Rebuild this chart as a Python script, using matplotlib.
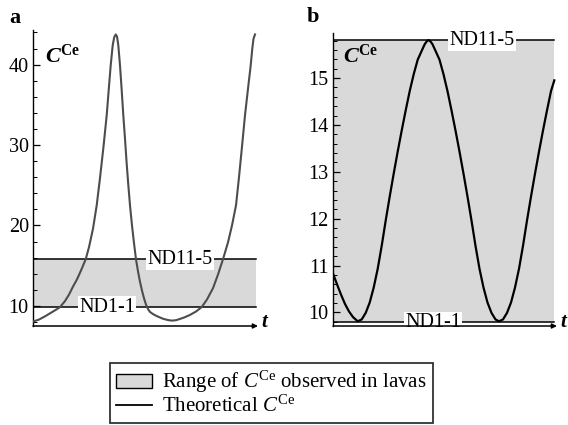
import matplotlib.pyplot as plt
from matplotlib.patches import Patch
from matplotlib.lines import Line2D
from matplotlib.ticker import MultipleLocator

plt.rcParams['font.family'] = 'Liberation Serif'
plt.rcParams['mathtext.fontset'] = 'custom'
plt.rcParams['mathtext.rm'] = 'Liberation Serif'
plt.rcParams['mathtext.it'] = 'Liberation Serif:italic'
plt.rcParams['mathtext.bf'] = 'Liberation Serif:bold'
plt.rcParams['mathtext.bfit'] = 'Liberation Serif:bold:italic'

# --- panel a: valores (t en unidades arbitrarias)
t_a = [0, 6, 12, 18, 24, 27, 32, 36, 40, 44, 48, 52.7, 56, 60, 63.7, 67, 70.5, 73.7,
       76, 77.7, 79.7, 81.2, 82.7, 84, 85.3, 87, 88.7, 90.3, 92, 93.5, 95.2, 97, 99,
       101, 103, 105, 107, 109, 111, 113, 115, 117, 120, 124, 130, 135, 138.7, 143,
       147, 152, 157, 163, 168.7, 174, 180, 185, 190, 195, 199, 203, 206, 209, 212,
       215, 217.7, 219.3, 220.5, 222]
c_a = [8.05, 8.3, 8.7, 9.15, 9.6, 9.85, 10.6, 11.4, 12.4, 13.3, 14.4, 15.8, 17.3, 19.6,
       22.5, 25.9, 29.8, 33.7, 37.3, 39.9, 42.4, 43.4, 43.75, 43.5, 42.4, 39.9, 36.8,
       33.7, 30.8, 28.0, 25.2, 22.5, 20.0, 17.8, 15.8, 14.3, 13.0, 11.9, 10.95, 10.15,
       9.6, 9.25, 8.98, 8.72, 8.4, 8.24, 8.17, 8.22, 8.38, 8.6, 8.88, 9.3, 9.85, 10.8,
       12.2, 13.9, 15.8, 17.9, 20.0, 22.5, 26.0, 29.8, 33.7, 37.0, 39.9, 42.0, 43.2,
       43.75]
nd11_a, nd1_a = 15.8, 9.85

# --- panel b
t_b = [0, 4, 8, 12, 16, 20, 24.7, 28.7, 32.7, 36.7, 40.7, 44.7, 48.7, 52.7, 56.7,
       60.7, 64.7, 68.7, 72.7, 76.7, 80.7, 84.7, 88.7, 91.7, 93.7, 95.5, 97.5, 99.5,
       102.5, 106.5, 110.5, 114.5, 118.5, 122.5, 126.5, 130.5, 134.5, 138.5, 142.5,
       146.5, 150.5, 154.5, 158.5, 162.5, 166, 170, 174, 178, 182, 186, 190, 194, 198,
       202, 206, 210, 214, 218, 221.3]
c_b = [10.83, 10.6, 10.38, 10.18, 10.02, 9.9, 9.81, 9.85, 9.99, 10.21, 10.53, 10.93,
       11.42, 11.96, 12.47, 12.96, 13.43, 13.88, 14.31, 14.72, 15.08, 15.39, 15.58,
       15.72, 15.78, 15.81, 15.78, 15.72, 15.58, 15.39, 15.08, 14.72, 14.31, 13.88,
       13.43, 12.96, 12.47, 11.96, 11.42, 10.93, 10.53, 10.21, 9.99, 9.85, 9.81, 9.85,
       9.99, 10.21, 10.53, 10.93, 11.42, 11.96, 12.47, 12.96, 13.43, 13.88, 14.31,
       14.72, 14.95]
nd11_b, nd1_b = 15.81, 9.79

gris = '#d9d9d9'

fig = plt.figure(figsize=(5.68, 4.25), dpi=100)
ax_a = fig.add_axes([33/568, 1-326/425, 225/568, 296/425])
ax_b = fig.add_axes([333/568, 1-326/425, 224/568, 293/425])


def preparar_ejes(ax, ylim, mayor, menor, xfin):
    ax.set_xlim(0, xfin)
    ax.set_ylim(*ylim)
    for s in ['top', 'right', 'bottom']:
        ax.spines[s].set_visible(False)
    ax.spines['left'].set_linewidth(1.0)
    ax.set_xticks([])
    ax.yaxis.set_major_locator(MultipleLocator(mayor))
    ax.yaxis.set_minor_locator(MultipleLocator(menor))
    ax.tick_params(axis='y', which='major', direction='in', length=5, width=0.9,
                   labelsize=14.5, pad=3)
    ax.tick_params(axis='y', which='minor', direction='in', length=3, width=0.7)
    ax.set_facecolor('none')
    # eje t con flecha
    ax.annotate('', xy=(1.0, 0), xytext=(0, 0), xycoords='axes fraction',
                arrowprops=dict(arrowstyle='-|>', color='black', lw=1.1,
                                mutation_scale=7, shrinkA=0, shrinkB=0),
                annotation_clip=False, zorder=5)
    ax.text(1.015, 0.012, r'$\mathbfit{t}$', transform=ax.transAxes,
            fontsize=15, va='center', ha='left')


def banda(ax, xfin, bajo, alto, x_alto, x_bajo):
    ax.fill_between([0, xfin], bajo, alto, color=gris, lw=0, zorder=1)
    ax.plot([0, xfin], [alto, alto], color='black', lw=1.1, zorder=2)
    ax.plot([0, xfin], [bajo, bajo], color='black', lw=1.1, zorder=2)
    caja = dict(facecolor='white', edgecolor='none', pad=0.8)
    ax.text(x_alto, alto, 'ND11-5', fontsize=14.5, ha='center', va='center',
            bbox=caja, zorder=4)
    ax.text(x_bajo, bajo, 'ND1-1', fontsize=14.5, ha='center', va='center',
            bbox=caja, zorder=4)


preparar_ejes(ax_a, (7.5, 44.3), 10, 2, 225)
banda(ax_a, 223, nd1_a, nd11_a, 147, 74)
ax_a.plot(t_a, c_a, color='#4d4d4d', lw=1.5, zorder=3)
ax_a.text(0.053, 0.95, r'$\mathbfit{C}^{\mathbf{Ce}}$', transform=ax_a.transAxes,
          fontsize=16, va='top', ha='left')

preparar_ejes(ax_b, (9.71, 15.96), 1, 0.2, 224)
banda(ax_b, 221, nd1_b, nd11_b, 149, 100)
ax_b.plot(t_b, c_b, color='black', lw=1.6, zorder=3)
ax_b.text(0.045, 0.96, r'$\mathbfit{C}^{\mathbf{Ce}}$', transform=ax_b.transAxes,
          fontsize=16, va='top', ha='left')

fig.text(9/568, 1-18/425, 'a', fontsize=16, fontweight='bold', va='center')
fig.text(307/568, 1-17/425, 'b', fontsize=16, fontweight='bold', va='center')

manejadores = [Patch(facecolor=gris, edgecolor='black', lw=1.0),
               Line2D([], [], color='black', lw=1.3)]
etiquetas = [r'Range of $C^{\mathrm{Ce}}$ observed in lavas',
             r'Theoretical $C^{\mathrm{Ce}}$']
leg = fig.legend(manejadores, etiquetas, loc='upper left',
                 bbox_to_anchor=(110/568, 1-363/425), fontsize=15,
                 frameon=True, fancybox=False, edgecolor='black',
                 handlelength=1.7, handleheight=0.6, handletextpad=0.5,
                 borderpad=0.3, labelspacing=0.0, borderaxespad=0)
leg.get_frame().set_linewidth(1.3)

fig.savefig('out.png', dpi=100)
